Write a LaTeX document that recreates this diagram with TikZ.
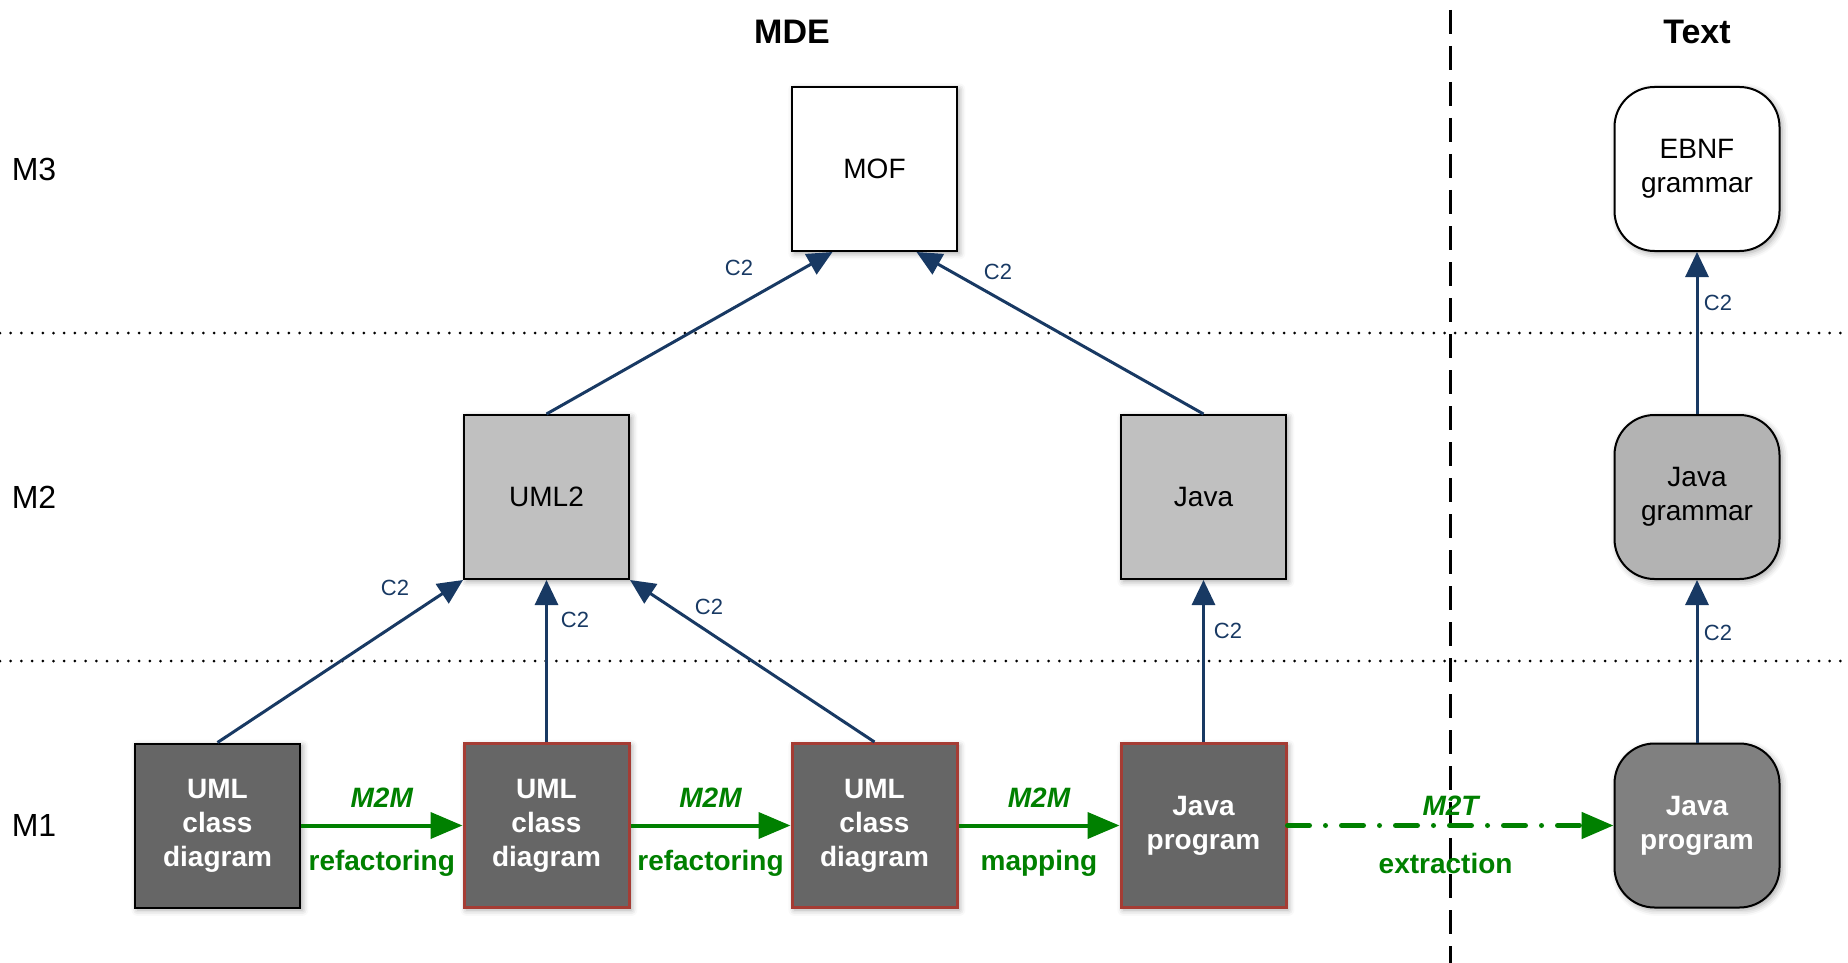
\documentclass[tikz,border=0pt]{standalone}
\usepackage{fontspec}
\setmainfont{Liberation Sans}
\usetikzlibrary{arrows.meta,calc,shadows.blur}
\definecolor{navy}{RGB}{24,57,99}
\definecolor{okgreen}{RGB}{0,128,0}
\definecolor{boxred}{RGB}{165,60,52}
\definecolor{metafill}{RGB}{192,192,192}
\definecolor{grammarfill}{RGB}{179,179,179}
\definecolor{modelfill}{RGB}{102,102,102}
\definecolor{codefill}{RGB}{128,128,128}
\begin{document}
\begin{tikzpicture}[x=0.5pt,y=-0.5pt,
  box/.style={draw=black, line width=1pt, minimum width=82.5pt, minimum height=82pt,
    inner sep=0pt, align=center, font=\fontsize{14pt}{17pt}\selectfont,
    blur shadow={shadow xshift=1.2pt, shadow yshift=-1.2pt, shadow blur radius=3pt, shadow opacity=35}},
  metabox/.style={box, fill=metafill},
  modelbox/.style={box, fill=modelfill, text=white, font=\fontsize{14pt}{17pt}\selectfont\bfseries},
  hilite/.style={draw=boxred, line width=1.5pt},
  roundbox/.style={box, rounded corners=20pt},
  level/.style={font=\fontsize{16pt}{19pt}\selectfont},
  heading/.style={font=\fontsize{17pt}{20pt}\selectfont\bfseries},
  conf/.style={draw=navy, line width=1.5pt, -{Triangle[length=12.5pt,width=11.5pt]}},
  conflab/.style={text=navy, font=\fontsize{11pt}{13pt}\selectfont},
  trans/.style={draw=okgreen, line width=2pt, -{Triangle[length=16pt,width=13pt]}},
  translab/.style={text=okgreen, font=\fontsize{14pt}{17pt}\selectfont\bfseries},
  sep/.style={line width=1.5pt, line cap=round, dash pattern=on 0pt off 5.35pt},
]
\useasboundingbox (0,0) rectangle (1848,963);

% level separators
\draw[sep] (0,333) -- (1848,333);
\draw[sep] (0,661) -- (1848,661);
\draw[line width=1.5pt, dash pattern=on 12pt off 6pt] (1450,10) -- (1450,963);

% headings and level names
\node[heading] (mde) at (792,32) {MDE};
\node[heading] (txt) at (1697,32) {Text};
\node[level] (m3) at (34,169) {M3};
\node[level] (m2) at (34,497) {M2};
\node[level] (m1) at (34,825) {M1};

% M3
\node[box, fill=white] (mof) at (874.5,169) {MOF};
\node[roundbox, fill=white] (ebnf) at (1697,169) {EBNF\\grammar};

% M2
\node[metabox] (uml2) at (546.5,497) {UML2};
\node[metabox] (java2) at (1203.5,497) {Java};
\node[roundbox, fill=grammarfill] (jgram) at (1697,497) {Java\\grammar};

% M1
\node[modelbox] (cd1) at (217.5,825.5) {UML\\class\\diagram};
\node[modelbox, hilite] (cd2) at (546.5,825.5) {UML\\class\\diagram};
\node[modelbox, hilite] (cd3) at (874.5,825.5) {UML\\class\\diagram};
\node[modelbox, hilite] (jprog) at (1203.5,825.5) {Java\\program};
\node[roundbox, fill=codefill, text=white, font=\fontsize{14pt}{17pt}\selectfont\bfseries] (jtext) at (1697,825.5) {Java\\program};

% conformance links
\draw[conf] (uml2.north) -- ($(mof.south)+(-42,0)$);
\draw[conf] (java2.north) -- ($(mof.south)+(42,0)$);
\draw[conf] (cd1.north) -- (uml2.south west);
\draw[conf] (cd2.north) -- (uml2.south);
\draw[conf] (cd3.north) -- (uml2.south east);
\draw[conf] (jprog.north) -- (java2.south);
\draw[conf] (jgram.north) -- (ebnf.south);
\draw[conf] (jtext.north) -- (jgram.south);

\node[conflab] (c2a) at (739,268) {C2};
\node[conflab] (c2b) at (998,272) {C2};
\node[conflab] (c2c) at (395,588) {C2};
\node[conflab] (c2d) at (575,620) {C2};
\node[conflab] (c2e) at (709,607) {C2};
\node[conflab] (c2f) at (1228,631) {C2};
\node[conflab] (c2g) at (1718,303) {C2};
\node[conflab] (c2h) at (1718,633) {C2};

% transformations
\draw[trans] (cd1) -- (cd2)
  node[translab, midway, yshift=14pt] {\itshape M2M}
  node[translab, midway, yshift=-19pt] {refactoring};
\draw[trans] (cd2) -- (cd3)
  node[translab, midway, yshift=14pt] {\itshape M2M}
  node[translab, midway, yshift=-19pt] {refactoring};
\draw[trans] (cd3) -- (jprog)
  node[translab, midway, yshift=14pt] {\itshape M2M}
  node[translab, midway, yshift=-19pt] {mapping};
\draw[trans, line width=2.5pt, line cap=round, dash pattern=on 11pt off 8pt on 0pt off 8pt] (jprog) -- (jtext)
  node[translab, pos=0.5, yshift=10pt] {\itshape M2T}
  node[translab, pos=0.485, yshift=-19pt] {extraction};
\end{tikzpicture}
\end{document}
